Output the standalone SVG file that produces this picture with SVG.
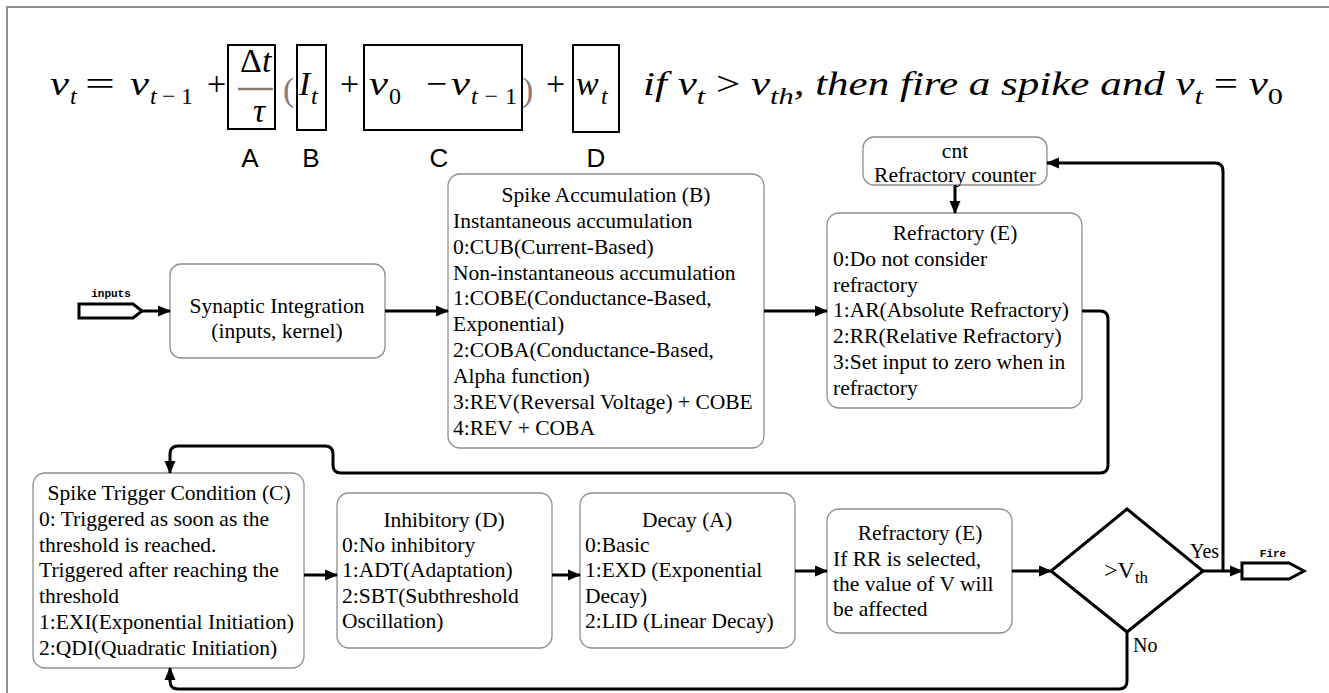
<svg xmlns="http://www.w3.org/2000/svg" width="1329" height="693" viewBox="0 0 1329 693">
<style>
.box{fill:#fff;stroke:#8f8f8f;stroke-width:1.3}
.eb{fill:none;stroke:#000;stroke-width:2}
.t{font-family:"Liberation Serif",serif;font-size:21.5px;fill:#000}
.c{text-anchor:middle}
.m{font-family:"Liberation Serif",serif;font-size:34px;font-style:italic;fill:#000}
.s{font-size:24px}
.u{font-style:normal}
.lab{font-family:"Liberation Sans",sans-serif;font-size:26px;fill:#000;text-anchor:middle}
.code{font-family:"Liberation Mono",monospace;font-weight:bold;font-size:11px;fill:#000;text-anchor:middle}
.conn path{fill:none;stroke:#000;stroke-width:3}
</style>
<defs>
<marker id="ah" markerUnits="userSpaceOnUse" markerWidth="13" markerHeight="12" viewBox="0 0 13 12" refX="12" refY="6" orient="auto">
<path d="M0,0.5 L13,6 L0,11.5 z" fill="#000"/>
</marker>
</defs>
<rect width="1329" height="693" fill="#fff"/>
<path d="M7,693 V7 H1329" fill="none" stroke="#8f8f8f" stroke-width="2"/>

<g id="equation">
<text class="m" x="50" y="95" textLength="19" lengthAdjust="spacingAndGlyphs">v</text><text class="m s" x="70" y="104">t</text>
<text class="m u" x="85" y="95" textLength="30" lengthAdjust="spacingAndGlyphs">=</text>
<text class="m" x="130" y="95" textLength="19" lengthAdjust="spacingAndGlyphs">v</text><text class="m s" x="150" y="104" textLength="43" lengthAdjust="spacing">t<tspan class="u">−1</tspan></text>
<text class="m u" x="207" y="95">+</text>
<rect class="eb" x="228" y="45" width="47" height="84"/>
<text class="m" x="240" y="72"><tspan class="u">Δ</tspan>t</text>
<line x1="238" y1="89" x2="273" y2="89" stroke="#8b7b76" stroke-width="2.5"/>
<text class="m c" x="259" y="122">τ</text>
<text class="m u" x="283" y="101" style="fill:#8b7b76">(</text>
<rect class="eb" x="297" y="45" width="29" height="85"/>
<text class="m" x="299" y="95">I</text><text class="m s" x="311" y="104">t</text>
<text class="m u" x="340" y="95">+</text>
<rect class="eb" x="364" y="45" width="158" height="85"/>
<text class="m" x="369" y="95" textLength="19" lengthAdjust="spacingAndGlyphs">v</text><text class="m s u" x="389" y="104">0</text>
<text class="m u" x="426" y="95" textLength="21" lengthAdjust="spacingAndGlyphs">−</text>
<text class="m" x="451" y="95" textLength="19" lengthAdjust="spacingAndGlyphs">v</text><text class="m s" x="471" y="104" textLength="46" lengthAdjust="spacing">t<tspan class="u">−1</tspan></text>
<text class="m u" x="522" y="101" style="fill:#8b7b76">)</text>
<text class="m u" x="546" y="95">+</text>
<rect class="eb" x="573" y="45" width="46" height="87"/>
<text class="m" x="576" y="95">w</text><text class="m s" x="601" y="104">t</text>
<text class="m" x="643" y="95" textLength="640" lengthAdjust="spacingAndGlyphs">if v<tspan class="s" dy="9">t</tspan><tspan dy="-9" class="u"> &gt; </tspan><tspan>v</tspan><tspan class="s" dy="9">th</tspan><tspan dy="-9">, then fire a spike and v</tspan><tspan class="s" dy="9">t</tspan><tspan dy="-9" class="u"> = </tspan><tspan>v</tspan><tspan class="s u" dy="9">0</tspan></text>
<text class="lab" x="250" y="167">A</text>
<text class="lab" x="311" y="167">B</text>
<text class="lab" x="439" y="167">C</text>
<text class="lab" x="596" y="167">D</text>
</g>

<g id="inputs">
<polygon points="79,304 133,304 142,311 133,318 79,318" fill="#fff" stroke="#000" stroke-width="3"/>
<text class="code" x="111" y="297">inputs</text>
</g>

<g id="synaptic">
<rect class="box" x="170" y="264" width="215" height="94" rx="11"/>
<text class="t c" x="277" y="313">Synaptic Integration</text>
<text class="t c" x="277" y="338">(inputs, kernel)</text>
</g>

<g id="spike-accumulation">
<rect class="box" x="448" y="174" width="316" height="274" rx="12"/>
<text class="t c" x="606" y="202">Spike Accumulation (B)</text>
<text class="t" x="453" y="228">Instantaneous accumulation</text>
<text class="t" x="453" y="253.5">0:CUB(Current-Based)</text>
<text class="t" x="453" y="279.5">Non-instantaneous accumulation</text>
<text class="t" x="453" y="305">1:COBE(Conductance-Based,</text>
<text class="t" x="453" y="331">Exponential)</text>
<text class="t" x="453" y="357">2:COBA(Conductance-Based,</text>
<text class="t" x="453" y="382.5">Alpha function)</text>
<text class="t" x="453" y="408.5">3:REV(Reversal Voltage) + COBE</text>
<text class="t" x="453" y="434.5">4:REV + COBA</text>
</g>

<g id="cnt">
<rect class="box" x="863" y="137" width="184" height="48" rx="11"/>
<text class="t c" x="955" y="158">cnt</text>
<text class="t c" x="955" y="182">Refractory counter</text>
</g>

<g id="refractory-top">
<rect class="box" x="827" y="213" width="255" height="195" rx="12"/>
<text class="t c" x="955" y="240">Refractory (E)</text>
<text class="t" x="833" y="266">0:Do not consider</text>
<text class="t" x="833" y="292">refractory</text>
<text class="t" x="833" y="317">1:AR(Absolute Refractory)</text>
<text class="t" x="833" y="343">2:RR(Relative Refractory)</text>
<text class="t" x="833" y="369">3:Set input to zero when in</text>
<text class="t" x="833" y="395">refractory</text>
</g>

<g id="spike-trigger">
<rect class="box" x="33" y="473" width="271" height="195" rx="12"/>
<text class="t c" x="169" y="500">Spike Trigger Condition (C)</text>
<text class="t" x="39" y="526">0: Triggered as soon as the</text>
<text class="t" x="39" y="552">threshold is reached.</text>
<text class="t" x="39" y="577">Triggered after reaching the</text>
<text class="t" x="39" y="603">threshold</text>
<text class="t" x="39" y="629">1:EXI(Exponential Initiation)</text>
<text class="t" x="39" y="655">2:QDI(Quadratic Initiation)</text>
</g>

<g id="inhibitory">
<rect class="box" x="337" y="493" width="215" height="155" rx="12"/>
<text class="t c" x="444" y="527">Inhibitory (D)</text>
<text class="t" x="342" y="552">0:No inhibitory</text>
<text class="t" x="342" y="577">1:ADT(Adaptation)</text>
<text class="t" x="342" y="603">2:SBT(Subthreshold</text>
<text class="t" x="342" y="628">Oscillation)</text>
</g>

<g id="decay">
<rect class="box" x="580" y="493" width="215" height="155" rx="12"/>
<text class="t c" x="687" y="527">Decay (A)</text>
<text class="t" x="585" y="552">0:Basic</text>
<text class="t" x="585" y="577">1:EXD (Exponential</text>
<text class="t" x="585" y="603">Decay)</text>
<text class="t" x="585" y="628">2:LID (Linear Decay)</text>
</g>

<g id="refractory-bottom">
<rect class="box" x="827" y="509" width="185" height="124" rx="12"/>
<text class="t c" x="920" y="540">Refractory (E)</text>
<text class="t" x="833" y="566">If RR is selected,</text>
<text class="t" x="833" y="591">the value of V will</text>
<text class="t" x="833" y="616">be affected</text>
</g>

<g id="threshold">
<polygon points="1127,509 1203,571 1127,632 1051,571" fill="#fff" stroke="#000" stroke-width="3"/>
<text class="t" x="1104" y="578" style="font-size:24px">&gt;V<tspan dy="5" style="font-size:17px">th</tspan></text>
</g>

<g id="fire">
<polygon points="1242,563 1289,563 1304,571 1289,579 1242,579" fill="#fff" stroke="#000" stroke-width="3"/>
<text class="code" x="1273" y="557">Fire</text>
</g>

<g id="connectors" class="conn">
<path d="M142,311 H170" marker-end="url(#ah)"/>
<path d="M385,311 H448" marker-end="url(#ah)"/>
<path d="M764,311 H827" marker-end="url(#ah)"/>
<path d="M955,185 V213" marker-end="url(#ah)"/>
<path d="M1082,311 H1100 Q1108,311 1108,319 V465 Q1108,473 1100,473 H341 Q333,473 333,465 V454 Q333,446 325,446 H178 Q170,446 170,454 V473" marker-end="url(#ah)"/>
<path d="M304,575 H337" marker-end="url(#ah)"/>
<path d="M552,575 H580" marker-end="url(#ah)"/>
<path d="M795,571 H827" marker-end="url(#ah)"/>
<path d="M1012,571 H1051" marker-end="url(#ah)"/>
<path d="M1203,571 H1242" marker-end="url(#ah)"/>
<path d="M1223,571 V171 Q1223,163 1215,163 H1047" marker-end="url(#ah)"/>
<path d="M1127,632 V681 Q1127,689 1119,689 H178 Q170,689 170,681 V668" marker-end="url(#ah)"/>
<text class="t" x="1190" y="558" style="font-size:20px">Yes</text>
<text class="t" x="1133" y="652" style="font-size:20px">No</text>
</g>
</svg>
